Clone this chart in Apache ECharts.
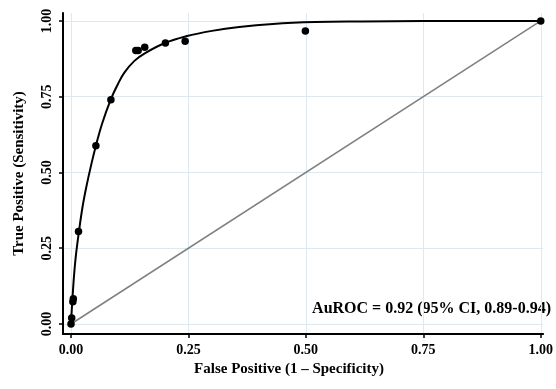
<!DOCTYPE html>
<html>
<head>
<meta charset="utf-8">
<script src="https://cdn.jsdelivr.net/npm/echarts@6/dist/echarts.min.js"></script>
<style>
  html, body { margin: 0; padding: 0; background: #fff; }
  #rocChart { width: 556px; height: 389px; }
</style>
</head>
<body>
<div id="rocChart"></div>
<script>
// tick positions shared by both axes
const tickValues = [0, 0.25, 0.5, 0.75, 1];

// observed operating points
const obsFpr = [0, 0.0015, 0.004, 0.005, 0.016, 0.053, 0.085, 0.138, 0.143, 0.157, 0.201, 0.243, 0.499, 1.0];
const obsTpr = [0, 0.02, 0.073, 0.083, 0.305, 0.588, 0.74, 0.902, 0.902, 0.913, 0.927, 0.933, 0.967, 1.0];

// fitted ROC curve
const fitFpr = [0, 0.001, 0.003, 0.006, 0.01, 0.017, 0.025, 0.033, 0.043, 0.053, 0.066, 0.085, 0.1, 0.114, 0.135, 0.157, 0.2, 0.245, 0.3, 0.358, 0.43, 0.52, 0.62, 0.75, 0.88, 1.0];
const fitTpr = [0, 0.03, 0.08, 0.15, 0.22, 0.306, 0.39, 0.455, 0.525, 0.588, 0.66, 0.742, 0.792, 0.83, 0.868, 0.893, 0.927, 0.949, 0.967, 0.98, 0.99, 0.996, 0.998, 0.9995, 1.0, 1.0];

// chance line
const refFpr = [0, 1];
const refTpr = [0, 1];

const annotation = 'AuROC = 0.92 (95% CI, 0.89-0.94)';

const zip = (xs, ys) => xs.map((x, i) => [x, ys[i]]);
const serif = "'Liberation Serif', 'Times New Roman', serif";

const chart = echarts.init(document.getElementById('rocChart'));

chart.setOption({
  animation: false,
  grid: { left: 63, right: 11, top: 13, bottom: 55 },
  xAxis: {
    type: 'value',
    min: -0.017,
    max: 1.005,
    name: 'False Positive (1 – Specificity)',
    nameLocation: 'middle',
    nameGap: 28,
    nameTextStyle: { fontFamily: serif, fontWeight: 'bold', fontSize: 15, color: '#000', padding: [0, 28, 0, 0] },
    axisLine: { show: true, onZero: false, lineStyle: { color: '#000', width: 2 } },
    axisTick: { show: true, length: 4, customValues: tickValues, lineStyle: { color: '#000', width: 1.5 } },
    axisLabel: {
      customValues: tickValues,
      margin: 9,
      fontFamily: serif, fontWeight: 'bold', fontSize: 14, color: '#000',
      formatter: v => v.toFixed(2)
    },
    splitLine: { show: true, lineStyle: { color: '#dde9ee', width: 1 } }
  },
  yAxis: {
    type: 'value',
    min: -0.033,
    max: 1.026,
    name: 'True Positive (Sensitivity)',
    nameLocation: 'middle',
    nameGap: 36,
    nameTextStyle: { fontFamily: serif, fontWeight: 'bold', fontSize: 15, color: '#000' },
    axisLine: { show: true, onZero: false, lineStyle: { color: '#000', width: 2 } },
    axisTick: { show: true, length: 4, customValues: tickValues, lineStyle: { color: '#000', width: 1.5 } },
    axisLabel: {
      customValues: tickValues,
      margin: 9,
      rotate: 90,
      fontFamily: serif, fontWeight: 'bold', fontSize: 14, color: '#000',
      formatter: v => v.toFixed(2)
    },
    splitLine: { show: true, lineStyle: { color: '#dde9ee', width: 1 } }
  },
  graphic: [{
    type: 'text',
    right: 5,
    top: 301,
    style: { text: annotation, font: "bold 16px 'Liberation Serif', 'Times New Roman', serif", fill: '#000' }
  }],
  series: [
    {
      type: 'line',
      data: zip(refFpr, refTpr),
      showSymbol: false,
      lineStyle: { color: '#808080', width: 1.5 },
      z: 1
    },
    {
      type: 'line',
      data: zip(fitFpr, fitTpr),
      showSymbol: false,
      smooth: 0.4,
      lineStyle: { color: '#000', width: 2 },
      z: 2
    },
    {
      type: 'scatter',
      data: zip(obsFpr, obsTpr),
      symbolSize: 7.5,
      itemStyle: { color: '#000', opacity: 1 },
      z: 3
    }
  ]
});
</script>
</body>
</html>
